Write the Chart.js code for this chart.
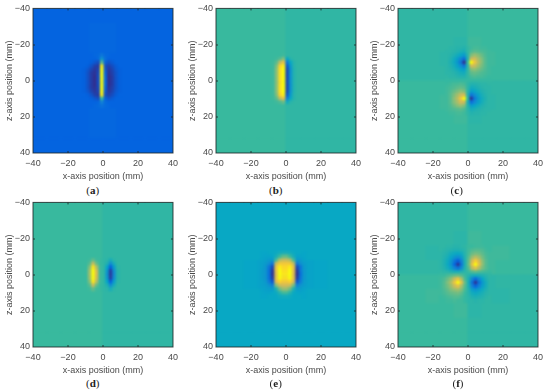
<!DOCTYPE html>
<html><head><meta charset="utf-8">
<style>
html,body{margin:0;padding:0;background:#fff;width:550px;height:390px;overflow:hidden}
canvas{position:absolute}
.cap{position:absolute;font:11px "Liberation Serif",serif;color:#222;transform:translateX(-50%);line-height:12px}
</style>
<script src="https://cdn.jsdelivr.net/npm/chart.js@4"></script>
</head><body>
<script>
const axisTicks=[-40,-20,0,20,40];
const xLabel="x-axis position (mm)", zLabel="z-axis position (mm)";
const captions=["a","b","c","d","e","f"];
const coarseCenters=[-36,-28,-20,-12,-4,4,12,20,28,36];
// Values are positions on the colour map (0 dark blue, 100 yellow).
const coarseA=[
[13,13,13,13,13,13,13,13,13,13],[13,13,13,13,14,14,13,13,13,13],[13,13,13,13,14,14,13,13,13,13],[13,13,13,13,14,14,13,13,13,13],[13,13,13,13,12,12,13,13,13,13],
[13,13,13,13,12,12,13,13,13,13],[13,13,13,13,14,14,13,13,13,13],[13,13,13,13,14,14,13,13,13,13],[13,13,13,13,14,14,13,13,13,13],[13,13,13,13,13,13,13,13,13,13]];
const coarseB=[
[50,50,50,50,50,48,48,48,48,48],[50,50,50,50,50,48,48,48,48,48],[50,50,50,50,50,48,48,48,48,48],[50,50,50,50,50,48,48,48,48,48],[50,50,50,50,50,48,48,48,48,48],
[50,50,50,50,50,48,48,48,48,48],[50,50,50,50,50,48,48,48,48,48],[50,50,50,50,50,48,48,48,48,48],[50,50,50,50,50,48,48,48,48,48],[50,50,50,50,50,48,48,48,48,48]];
const coarseC=[
[48,48,48,48,48,50,50,50,50,50],[48,48,48,48,48,50,50,50,50,50],[48,48,48,48,47,51,50,50,50,50],[48,48,48,47,47,51,51,50,50,50],[48,48,48,48,48,50,50,50,50,50],
[50,50,50,50,50,48,48,48,48,48],[50,50,50,51,51,47,47,48,48,48],[50,50,50,50,51,47,48,48,48,48],[50,50,50,50,50,48,48,48,48,48],[50,50,50,50,50,48,48,48,48,48]];
const coarseD=[
[50,50,50,50,50,48,48,48,48,48],[50,50,50,50,50,48,48,48,48,48],[50,50,50,50,50,48,48,48,48,48],[50,50,50,50,50,48,48,48,48,48],[50,50,50,50,50,48,48,48,48,48],
[50,50,50,50,50,48,48,48,48,48],[50,50,50,50,50,48,48,48,48,48],[50,50,50,50,50,48,48,48,48,48],[50,50,50,50,50,48,48,48,48,48],[50,50,50,50,50,48,48,48,48,48]];
const coarseE=[
[38,38,38,38,38,38,38,38,38,38],[38,38,38,38,38,38,38,38,38,38],[38,38,38,38,38,38,38,38,38,38],[38,38,38,38,38,38,38,38,38,38],[38,38,37,36,37,37,36,37,38,38],
[38,38,37,36,37,37,36,37,38,38],[38,38,38,38,38,38,38,38,38,38],[38,38,38,38,38,38,38,38,38,38],[38,38,38,38,38,38,38,38,38,38],[38,38,38,38,38,38,38,38,38,38]];
const coarseF=[
[48,48,48,48,48,50,50,50,50,50],[48,48,48,48,48,50,50,50,50,50],[48,48,48,48,47,51,50,50,50,50],[48,48,47,47,47,51,51,51,50,50],[48,48,48,47,48,50,51,50,50,50],
[50,50,50,51,50,48,47,48,48,48],[50,50,51,51,51,47,47,47,48,48],[50,50,50,50,51,47,48,48,48,48],[50,50,50,50,50,48,48,48,48,48],[50,50,50,50,50,48,48,48,48,48]];

const fineXA=[-10.5,-8.5,-6.5,-4.5,-2.5,-0.5,1.5,3.5,5.5,7.5,9.5];
const fineZA=[-14,-12,-10,-8,-6,-4,-2,0,2,4,6,8,10,12,14];
const fineA=[
[13,13,13,14,15,20,15,14,13,13,13],
[13,13,13,13,15,30,17,13,13,13,13],
[13,13,12,10,8,55,12,9,11,13,13],
[13,12,9,5,4,96,8,5,8,11,13],
[12,10,6,3,6,100,10,3,6,10,12],
[12,9,4,2,7,100,12,2,5,9,12],
[12,9,4,1,8,100,14,1,4,9,12],
[12,9,4,1,8,100,14,1,4,9,12],
[12,9,4,1,8,100,14,1,4,9,12],
[12,9,4,2,7,100,12,2,5,9,12],
[12,10,6,3,6,100,10,3,6,10,12],
[13,12,9,5,4,96,8,5,8,11,13],
[13,13,12,10,8,50,12,9,11,13,13],
[13,13,13,13,14,24,15,13,13,13,13],
[13,13,13,14,15,18,15,14,13,13,13]];
const fineXB=[-9.2,-7.2,-5.2,-3.2,-1.2,0.8,2.8,4.8,6.8];
const fineZB=[-14,-12,-10,-8,-6,-4,-2,0,2,4,6,8,10,12,14];
const fineB=[
[50,50,50,50,51,48,48,48,48],
[50,50,51,54,60,38,46,48,48],
[50,51,55,72,80,20,38,46,48],
[50,51,60,88,96,10,33,46,48],
[50,51,62,92,100,7,30,45,48],
[50,51,62,92,100,7,30,45,48],
[50,51,62,92,100,7,30,45,48],
[50,51,62,92,100,7,30,45,48],
[50,51,62,92,100,7,30,45,48],
[50,51,62,92,100,7,30,45,48],
[50,51,62,92,100,7,30,45,48],
[50,51,60,88,96,10,33,46,48],
[50,51,55,70,78,22,38,46,48],
[50,50,51,53,57,40,46,48,48],
[50,50,50,50,50,48,48,48,48]];
const fineXC=[-12,-10,-8,-6,-4,-2,0,2,4,6,8,10,12];
const fineZC=[-18,-16,-14,-12,-10,-8,-6,-4,-2,0,2,4,6,8,10,12,14,16,18];
const fineC=[
[48,47,47,46,46,45,48,51,52,52,51,51,50],
[47,47,46,45,43,42,48,53,55,54,53,52,51],
[47,46,44,41,37,33,46,60,64,61,57,53,51],
[47,45,41,35,26,18,44,72,74,66,60,54,51],
[47,44,40,32,20,2,50,100,82,69,61,54,51],
[47,45,42,36,28,20,46,74,72,65,59,54,51],
[47,46,44,41,37,34,47,60,62,59,56,53,51],
[47,47,46,44,42,41,48,55,56,55,53,52,51],
[48,47,47,46,45,45,48,52,53,52,52,51,50],
[49,49,49,49,49,49,49,49,49,49,49,49,49],
[50,51,52,52,53,52,48,45,45,46,47,47,48],
[51,52,53,55,56,55,48,41,42,44,46,47,47],
[51,53,56,59,62,60,47,34,37,41,44,46,47],
[51,54,59,65,72,74,46,20,28,36,42,45,47],
[51,54,61,69,82,100,50,2,20,32,40,44,47],
[51,54,60,66,74,72,44,18,26,35,41,45,47],
[51,53,57,61,64,60,46,33,37,41,44,46,47],
[51,52,53,54,55,53,47,42,43,45,46,47,47],
[50,51,51,52,52,51,48,45,46,46,47,47,48]];
const fineXD=[-9.5,-7.5,-5.5,-3.5,-1.5,0.5,2.5,4.5,6.5,8.5];
const fineZD=[-8,-6,-4,-2,0,2,4,6,8];
const fineD=[
[50,51,56,51,50,48,47,42,47,48],
[50,54,72,56,50,48,44,28,42,48],
[50,60,94,68,51,48,37,12,34,47],
[50,64,100,74,51,48,32,4,28,46],
[50,65,100,75,51,48,30,3,27,46],
[50,64,100,74,51,48,32,4,28,46],
[50,60,94,68,51,48,37,12,34,47],
[50,54,72,56,50,48,44,28,42,48],
[50,51,56,51,50,48,47,42,47,48]];
const fineXE=[-13.5,-11.5,-9.5,-7.5,-5.5,-3.5,-1.5,0.5,2.5,4.5,6.5,8.5,10.5];
const fineZE=[-12,-10,-8,-6,-4,-2,0,2,4,6,8,10,12];
const fineE=[
[37,37,38,38,39,41,42,42,41,39,38,38,37],
[37,36,36,37,42,50,56,56,50,42,36,36,37],
[36,35,33,32,52,68,72,72,68,52,32,33,36],
[35,33,28,20,72,84,84,84,84,70,20,29,34],
[35,31,20,7,80,96,90,90,96,78,7,20,33],
[34,30,18,3,80,100,92,92,100,78,3,20,32],
[34,30,18,2,78,100,94,94,100,76,2,18,32],
[34,30,18,4,80,100,92,92,100,78,4,20,32],
[35,32,22,10,76,88,84,84,88,74,10,22,33],
[35,34,30,24,60,72,74,74,72,58,24,30,34],
[36,35,34,33,44,58,64,64,58,44,33,34,36],
[37,36,36,37,39,46,52,52,46,39,37,36,37],
[37,37,38,38,38,40,41,41,40,38,38,38,37]];
const fineXF=[-15.5,-13.5,-11.5,-9.5,-7.5,-5.5,-3.5,-1.5,0.5,2.5,4.5,6.5,8.5,10.5,12.5];
const fineZF=[-15.5,-13.5,-11.5,-9.5,-7.5,-5.5,-3.5,-1.5,0.5,2.5,4.5,6.5,8.5,10.5,12.5,14.5];
const fineF=[
[48,48,47,47,46,46,47,48,50,50,51,51,51,50,50],
[48,47,46,45,44,44,45,47,51,53,54,54,53,51,50],
[47,46,44,41,39,38,40,46,52,57,59,58,55,52,51],
[47,45,42,37,31,27,33,45,54,64,70,65,58,53,51],
[47,44,40,32,20,12,24,44,56,74,86,74,61,54,51],
[47,44,39,30,14,2,20,44,57,80,100,78,62,54,51],
[47,45,41,35,24,18,28,45,54,70,78,68,59,54,51],
[48,47,46,44,42,42,44,47,50,54,56,54,52,51,50],
[50,50,52,54,56,57,54,50,46,42,41,42,44,46,48],
[51,53,57,62,72,80,66,52,43,26,16,26,37,44,47],
[51,54,60,68,82,100,78,56,42,18,2,18,32,41,47],
[51,54,58,64,72,78,66,54,43,24,14,24,35,42,47],
[51,53,56,60,63,65,60,52,45,35,31,35,40,44,47],
[51,52,54,56,57,58,55,50,46,41,39,41,43,46,47],
[50,51,52,53,54,54,52,49,47,44,43,44,45,47,48],
[50,50,51,51,52,51,51,49,47,47,46,47,47,48,48]];

const stops=[[53,42,135],[3,99,225],[20,133,212],[6,167,198],[56,185,158],[146,191,115],[217,186,86],[252,206,46],[249,251,14]];
function colour(v){
  const t=Math.max(0,Math.min(1,v/100))*(stops.length-1),i=Math.min(stops.length-2,Math.floor(t)),f=t-i;
  const c=stops[i].map((s,k)=>Math.round(s+(stops[i+1][k]-s)*f));
  return `rgb(${c[0]},${c[1]},${c[2]})`;
}
function cells(xs,zs,grid){
  const out=[];
  zs.forEach((z,r)=>xs.forEach((x,c)=>out.push({x:x,y:z,v:grid[r][c]})));
  return out;
}
const frame={
  id:'frame',
  afterDatasetsDraw(chart){
    const a=chart.chartArea,ctx=chart.ctx;
    ctx.save();
    ctx.beginPath();ctx.rect(a.left,a.top,a.right-a.left,a.bottom-a.top);ctx.clip();
    ctx.filter='blur(0.9px)';
    ctx.drawImage(chart.canvas,a.left,a.top,a.right-a.left,a.bottom-a.top,a.left,a.top,a.right-a.left,a.bottom-a.top);
    ctx.restore();
  },
  afterDraw(chart){
    const a=chart.chartArea,ctx=chart.ctx;
    ctx.save();
    ctx.strokeStyle='rgba(30,40,40,0.85)';ctx.lineWidth=1;
    ctx.strokeRect(a.left,a.top,a.right-a.left,a.bottom-a.top);
    ctx.beginPath();
    axisTicks.slice(1,-1).forEach(t=>{
      const x=Math.round(chart.scales.x.getPixelForValue(t)),y=Math.round(chart.scales.y.getPixelForValue(t));
      ctx.moveTo(x,a.top);ctx.lineTo(x,a.top+2);ctx.moveTo(x,a.bottom);ctx.lineTo(x,a.bottom-2);
      ctx.moveTo(a.left,y);ctx.lineTo(a.left+2,y);ctx.moveTo(a.right,y);ctx.lineTo(a.right-2,y);
    });
    ctx.stroke();ctx.restore();
  }
};
function side(mm){
  return c=>{
    const s=c.chart.scales;
    if(!s.x||!s.y) return 3;
    const px=Math.max(Math.abs(s.x.getPixelForValue(mm)-s.x.getPixelForValue(0)),Math.abs(s.y.getPixelForValue(mm)-s.y.getPixelForValue(0)));
    return (px/2+0.3)*Math.SQRT2;
  };
}
function fmt(v){return v<0?'\u2212'+Math.abs(v):String(v);}
const font={family:'"Liberation Sans",Arial,sans-serif',size:9};
function scale(label,isX){
  return {type:'linear',min:-40,max:40,reverse:!isX,
    afterBuildTicks(s){s.ticks=axisTicks.map(v=>({value:v}));},
    afterFit(s){if(isX)s.height=29;else s.width=33;},
    grid:{display:false,drawTicks:false},border:{display:false},
    ticks:{color:'#4a4a4a',font:font,padding:isX?5:3,maxRotation:0,autoSkip:false,callback:fmt},
    title:{display:true,text:label,color:'#4a4a4a',font:font,padding:{top:isX?0:4,bottom:0}}};
}
const panels=[
 {left:0,top:0,coarse:coarseA,xs:fineXA,zs:fineZA,fine:fineA},
 {left:183,top:0,coarse:coarseB,xs:fineXB,zs:fineZB,fine:fineB},
 {left:365,top:0,coarse:coarseC,xs:fineXC,zs:fineZC,fine:fineC},
 {left:0,top:193.5,coarse:coarseD,xs:fineXD,zs:fineZD,fine:fineD},
 {left:183,top:193.5,coarse:coarseE,xs:fineXE,zs:fineZE,fine:fineE},
 {left:365,top:193.5,coarse:coarseF,xs:fineXF,zs:fineZF,fine:fineF}];
const capX=[92.7,275.7,456.7,92.7,275.7,458], capY=[183.5,183.5,183.5,377,377,377];
panels.forEach((p,i)=>{
  const cv=document.createElement('canvas');
  cv.width=183;cv.height=182;
  cv.style.left=p.left+'px';cv.style.top=Math.round(p.top)+'px';cv.style.width='183px';cv.style.height='182px';
  document.body.appendChild(cv);
  const bg=c=>colour(c.raw?c.raw.v:50);
  new Chart(cv,{type:'scatter',
    data:{datasets:[
      {data:cells(p.xs,p.zs,p.fine),pointStyle:'rect',pointRadius:side(2),pointBackgroundColor:bg,pointBorderWidth:0},
      {data:cells(coarseCenters,coarseCenters,p.coarse),pointStyle:'rect',pointRadius:side(8),pointBackgroundColor:bg,pointBorderWidth:0}
    ]},
    options:{responsive:false,animation:false,devicePixelRatio:1,
      layout:{padding:{top:7,right:7,left:0,bottom:0}},
      plugins:{legend:{display:false},tooltip:{enabled:false}},
      scales:{x:scale(xLabel,true),y:scale(zLabel,false)}},
    plugins:[frame]});
  const cap=document.createElement('div');
  cap.className='cap';cap.style.left=capX[i]+'px';cap.style.top=capY[i]+'px';
  cap.innerHTML='(<b>'+captions[i]+'</b>)';
  document.body.appendChild(cap);
});
</script>
</body></html>
